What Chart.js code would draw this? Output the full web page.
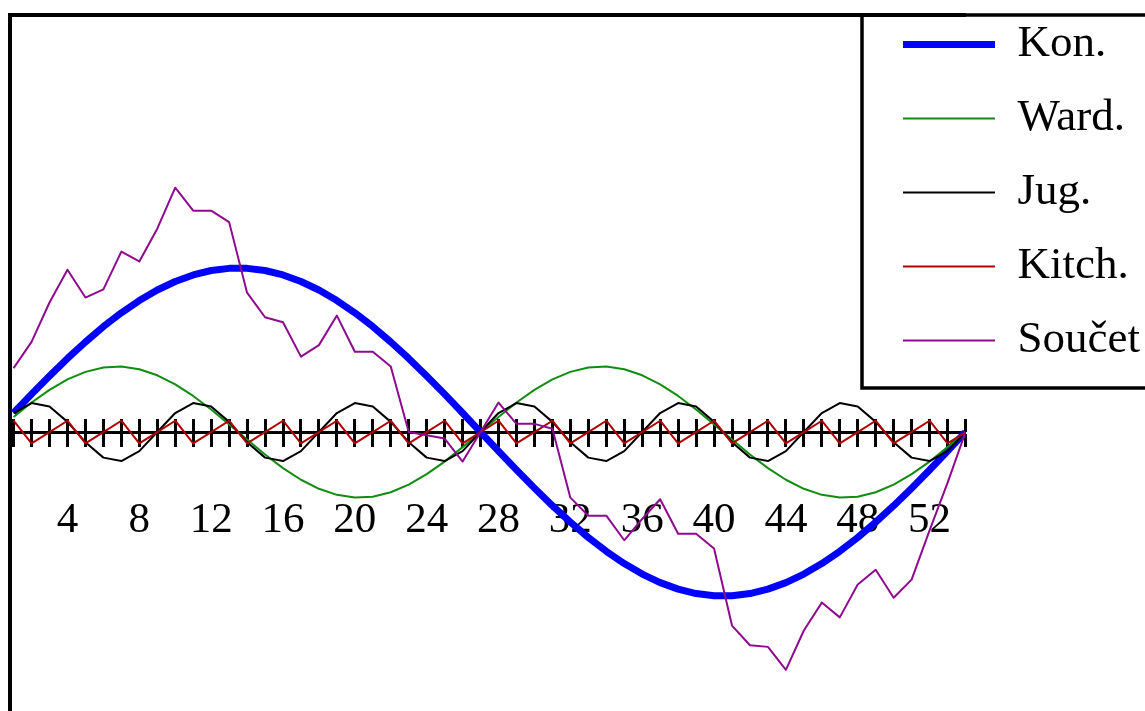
<!DOCTYPE html>
<html>
<head>
<meta charset="utf-8">
<script src="https://cdn.jsdelivr.net/npm/chart.js@4/dist/chart.umd.min.js"></script>
<style>
html,body{margin:0;padding:0;background:#ffffff;overflow:hidden;}
canvas{display:block;}
</style>
</head>
<body>
<canvas id="c" width="1145" height="711"></canvas>
<script>
// ---- data ----
const weeks = [1,2,3,4,5,6,7,8,9,10,11,12,13,14,15,16,17,18,19,20,21,22,23,24,25,26,27,
               28,29,30,31,32,33,34,35,36,37,38,39,40,41,42,43,44,45,46,47,48,49,50,51,52,53,54];
const tickLabels = ['4','8','12','16','20','24','28','32','36','40','44','48','52'];
const seriesNames = ['Kon.', 'Ward.', 'Jug.', 'Kitch.', 'Součet'];

const kon = [1.16,2.31,3.42,4.49,5.49,6.43,7.27,8.02,8.66,9.18,9.58,9.85,9.98,9.98,9.85,9.58,9.18,8.66,8.02,7.27,6.43,5.49,4.49,3.42,2.31,1.16,0,
             -1.16,-2.31,-3.42,-4.49,-5.49,-6.43,-7.27,-8.02,-8.66,-9.18,-9.58,-9.85,-9.98,-9.98,-9.85,-9.58,-9.18,-8.66,-8.02,-7.27,-6.43,-5.49,-4.49,-3.42,-2.31,-1.16,0];
const ward = [0.92,1.80,2.57,3.21,3.67,3.94,3.99,3.83,3.46,2.91,2.20,1.37,0.46,-0.46,-1.37,-2.20,-2.91,-3.46,-3.83,-3.99,-3.94,-3.67,-3.21,-2.57,-1.80,-0.92,0,
              0.92,1.80,2.57,3.21,3.67,3.94,3.99,3.83,3.46,2.91,2.20,1.37,0.46,-0.46,-1.37,-2.20,-2.91,-3.46,-3.83,-3.99,-3.94,-3.67,-3.21,-2.57,-1.80,-0.92,0];
const jug = [1.16,1.77,1.56,0.62,-0.62,-1.56,-1.77,-1.16,0,
             1.16,1.77,1.56,0.62,-0.62,-1.56,-1.77,-1.16,0,
             1.16,1.77,1.56,0.62,-0.62,-1.56,-1.77,-1.16,0,
             1.16,1.77,1.56,0.62,-0.62,-1.56,-1.77,-1.16,0,
             1.16,1.77,1.56,0.62,-0.62,-1.56,-1.77,-1.16,0,
             1.16,1.77,1.56,0.62,-0.62,-1.56,-1.77,-1.16,0];
const kitch = [0.69,-0.69,0,0.69,-0.69,0,0.69,-0.69,0,0.69,-0.69,0,0.69,-0.69,0,0.69,-0.69,0,
               0.69,-0.69,0,0.69,-0.69,0,0.69,-0.69,0,0.69,-0.69,0,0.69,-0.69,0,0.69,-0.69,0,
               0.69,-0.69,0,0.69,-0.69,0,0.69,-0.69,0,0.69,-0.69,0,0.69,-0.69,0,0.69,-0.69,0];
const soucet = [3.9,5.5,7.9,9.9,8.2,8.7,11.0,10.4,12.4,14.9,13.5,13.5,12.8,8.5,7.0,6.7,4.6,5.3,7.1,4.9,4.9,4.0,0.0,-0.2,-0.4,-1.8,0.0,
                1.8,0.5,0.5,0.2,-4.0,-5.1,-5.1,-6.6,-5.3,-4.1,-6.2,-6.2,-7.1,-11.8,-13.0,-13.1,-14.5,-12.1,-10.4,-11.3,-9.3,-8.4,-10.1,-9.0,-6.0,-3.1,0];

// ---- chart ----
const FONT = "'Liberation Serif', 'Times New Roman', serif";
Chart.defaults.font.family = FONT;
Chart.defaults.color = '#000000';

const toPoints = (arr) => weeks.map((w, i) => ({x: w, y: arr[i]}));
const colors = ['#0000ff', '#108c10', '#000000', '#b00000', '#8e0a8e'];
const widths = [7, 2, 2, 2, 2];
const allSeries = [kon, ward, jug, kitch, soucet];

const datasets = allSeries.map((arr, i) => ({
  label: seriesNames[i],
  data: toPoints(arr),
  xAxisID: 'x',
  yAxisID: 'y',
  borderColor: colors[i],
  backgroundColor: colors[i],
  borderWidth: widths[i],
  pointBorderWidth: widths[i],
  pointBorderColor: colors[i],
  pointRadius: 0,
  pointHoverRadius: 0,
  tension: 0,
  fill: false,
  borderJoinStyle: 'round',
  order: allSeries.length - i
}));

const X_MIN = 0.8, X_MAX = 54;
const tickAxisBase = {
  type: 'linear', axis: 'x', min: X_MIN, max: X_MAX,
  ticks: {display: false, stepSize: 1, includeBounds: false}
};

const legendPlace = {
  id: 'legendPlace',
  afterLayout(chart) {
    const lg = chart.legend;
    const p = lg.options.labels.padding;
    lg.left = 903 - p;
    lg.top = 22 - p;
    lg.right = 1145;
    lg.width = lg.right - lg.left;
  }
};
const legendFrame = {
  id: 'legendFrame',
  afterDraw(chart) {
    const ctx = chart.ctx;
    ctx.save();
    ctx.strokeStyle = '#000000';
    ctx.lineWidth = 3.5;
    ctx.strokeRect(862, 15, 400, 373);
    ctx.restore();
  }
};

new Chart(document.getElementById('c'), {
  type: 'line',
  data: {datasets},
  options: {
    responsive: false,
    animation: false,
    events: [],
    layout: {padding: {left: 10, top: 15, right: 179.5, bottom: 0}},
    scales: {
      x: Object.assign({}, tickAxisBase, {
        position: {y: 0},
        border: {display: true, color: '#000000', width: 3},
        grid: {display: true, drawOnChartArea: false, drawTicks: true, tickLength: 13, tickWidth: 3, tickColor: '#000000', color: '#000000'}
      }),
      y: {type: 'linear', axis: 'y', display: false, min: -17.01, max: 25.43},
      xUp: Object.assign({}, tickAxisBase, {
        position: {y: 0.79},
        border: {display: false},
        grid: {display: true, drawOnChartArea: false, drawTicks: true, tickLength: 13, tickWidth: 3, tickColor: '#000000', color: '#000000'}
      }),
      xLab: {
        type: 'linear', axis: 'x', min: X_MIN, max: X_MAX,
        position: {y: -3.85},
        border: {display: false},
        grid: {display: false, drawTicks: false},
        ticks: {
          display: true, stepSize: 1, includeBounds: false, autoSkip: false,
          maxRotation: 0, minRotation: 0, padding: 0,
          font: {family: FONT, size: 43},
          color: '#000000',
          callback: (v) => tickLabels.includes(String(v)) ? String(v) : ''
        }
      },
      xFrame: {
        type: 'linear', axis: 'x', position: 'top', min: X_MIN, max: X_MAX,
        border: {display: true, color: '#000000', width: 4},
        grid: {display: false, drawTicks: false},
        ticks: {display: false}
      },
      yFrame: {
        type: 'linear', axis: 'y', position: 'left',
        border: {display: true, color: '#000000', width: 4},
        grid: {display: false, drawTicks: false},
        ticks: {display: false}
      }
    },
    plugins: {
      tooltip: {enabled: false},
      title: {display: false},
      legend: {
        display: true,
        position: 'chartArea',
        align: 'start',
        labels: {
          usePointStyle: true,
          pointStyle: 'line',
          pointStyleWidth: 92,
          padding: 29,
          color: '#000000',
          font: {family: FONT, size: 45},
          sort: (a, b) => a.datasetIndex - b.datasetIndex
        }
      }
    }
  },
  plugins: [legendPlace, legendFrame]
});
</script>
</body>
</html>
